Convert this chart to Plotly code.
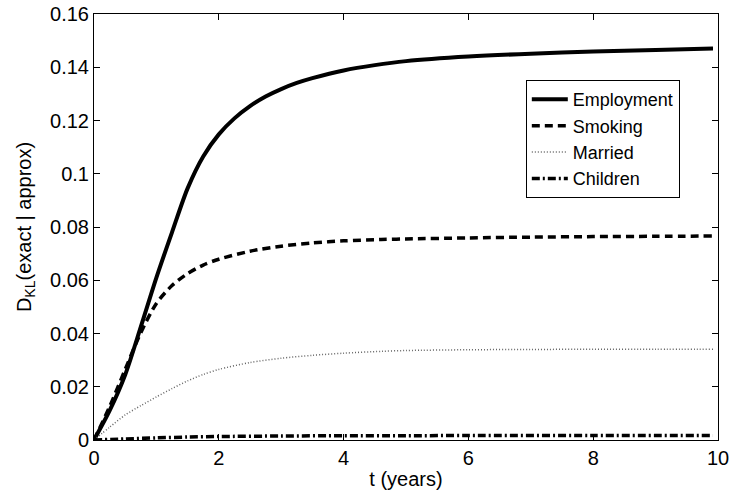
import plotly.graph_objects as go

# ---- data ----
t_emp = [0, 0.25, 0.5, 0.75, 1.0, 1.25, 1.5, 1.75, 2.0, 2.25, 2.5, 2.75, 3.0, 3.25, 3.5, 4.0, 4.5, 5, 6, 7, 8, 9, 9.92]
employment = [0, 0.011, 0.0245, 0.0425, 0.061, 0.078, 0.0945, 0.1065, 0.1148, 0.1208, 0.1254, 0.1290, 0.1318,
              0.1341, 0.1359, 0.1388, 0.1408, 0.1423, 0.1440, 0.1451, 0.1459, 0.1465, 0.1470]

t_smk = [0, 0.25, 0.5, 0.75, 1.0, 1.25, 1.5, 1.75, 2.0, 2.5, 3.0, 3.5, 4.0, 4.6, 5, 6, 7, 8, 9, 9.92]
smoking = [0, 0.0125, 0.0265, 0.0403, 0.0513, 0.058, 0.0625, 0.0657, 0.0679, 0.0709, 0.0728, 0.0740, 0.0748,
           0.0753, 0.0755, 0.0759, 0.0762, 0.0764, 0.0765, 0.0766]

t_mar = [0, 0.25, 0.5, 0.75, 1.0, 1.25, 1.5, 1.75, 2.0, 2.5, 3.0, 3.5, 4.0, 4.6, 5, 6, 7, 8, 9, 9.92]
married = [0, 0.0048, 0.0094, 0.0129, 0.0162, 0.0193, 0.0222, 0.0246, 0.0265, 0.0291, 0.0307, 0.0318, 0.0326,
           0.0333, 0.0336, 0.0339, 0.0340, 0.0341, 0.0341, 0.0341]

t_chi = [0, 0.5, 1, 1.5, 2, 3, 4, 5, 6, 8, 9.92]
children = [0, 0.0004, 0.0008, 0.0011, 0.0013, 0.0015, 0.0016, 0.0016, 0.0017, 0.0017, 0.0017]

x_ticks = [0, 2, 4, 6, 8, 10]
y_ticks = [0, 0.02, 0.04, 0.06, 0.08, 0.1, 0.12, 0.14, 0.16]
y_tick_labels = ["0", "0.02", "0.04", "0.06", "0.08", "0.1", "0.12", "0.14", "0.16"]

FONT = "Liberation Sans, Arial, Helvetica, sans-serif"

fig = go.Figure()
fig.add_trace(go.Scatter(x=t_emp, y=employment, mode="lines", name="Employment",
                         line=dict(color="black", width=4, shape="spline", smoothing=0.8)))
fig.add_trace(go.Scatter(x=t_smk, y=smoking, mode="lines", name="Smoking",
                         line=dict(color="black", width=3.5, dash="8px,5px", shape="spline", smoothing=0.8)))
fig.add_trace(go.Scatter(x=t_mar, y=married, mode="lines", name="Married",
                         line=dict(color="#666666", width=1.5, dash="1px,2px", shape="spline", smoothing=0.8)))
fig.add_trace(go.Scatter(x=t_chi, y=children, mode="lines", name="Children",
                         line=dict(color="black", width=3.5, dash="8px,3px,2px,3px", shape="spline", smoothing=0.8)))

axis_common = dict(showline=True, linecolor="black", linewidth=1, mirror="ticks",
                   ticks="inside", ticklen=6, tickcolor="black", showgrid=False, zeroline=False,
                   tickfont=dict(family=FONT, size=20, color="black"))

fig.update_xaxes(range=[0, 10], tickvals=x_ticks,
                 title=dict(text="t (years)", font=dict(family=FONT, size=20, color="black"), standoff=3),
                 **axis_common)
fig.update_yaxes(range=[0, 0.16], tickvals=y_ticks, ticktext=y_tick_labels,
                 title=dict(text="D<sub>KL</sub>(exact | approx)", font=dict(family=FONT, size=20, color="black"),
                            standoff=13),
                 **axis_common)

fig.update_layout(
    width=730, height=494,
    margin=dict(l=94, r=12, t=14, b=54, autoexpand=False),
    paper_bgcolor="white", plot_bgcolor="white",
    font=dict(family=FONT, size=20, color="black"),
    legend=dict(x=0.692, y=0.845, xanchor="left", yanchor="top",
                bgcolor="white", bordercolor="black", borderwidth=1,
                font=dict(family=FONT, size=18, color="black"),
                itemwidth=36, tracegroupgap=0),
    showlegend=True,
)

fig.write_html("out.html")
